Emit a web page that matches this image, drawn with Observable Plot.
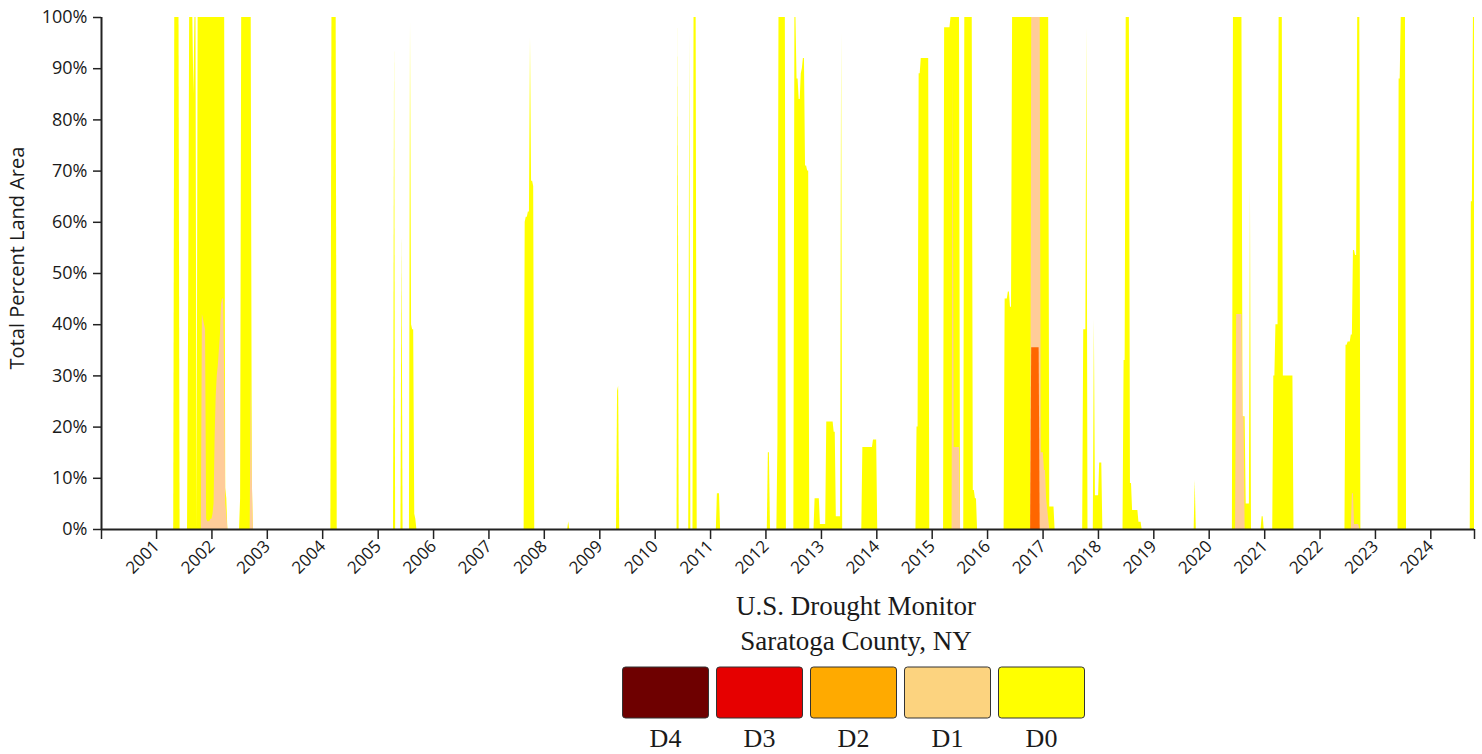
<!DOCTYPE html>
<html><head><meta charset="utf-8">
<script src="https://cdn.jsdelivr.net/npm/d3@7"></script>
<script src="https://cdn.jsdelivr.net/npm/@observablehq/plot@0.6"></script>
<style>
html,body{margin:0;padding:0;background:#fff;}
#wrap{position:relative;width:1482px;height:754px;overflow:hidden;background:#fff;}
#wrap svg{display:block;}
</style></head><body><div id="wrap"></div>
<script>
// ---- Data (weekly USDM values, % of land area, each episode = [first week, weekly values]) ----
const yearTicks = [2001,2002,2003,2004,2005,2006,2007,2008,2009,2010,2011,2012,2013,2014,2015,2016,2017,2018,2019,2020,2021,2022,2023,2024];
const percentTicks = [0,10,20,30,40,50,60,70,80,90,100];
const firstWeek = "2000-01-04";
const lastWeek = "2024-10-15";

// D0–D4 (total area in at least D0)
const d0Episodes = [
  ["2001-04-24", [0,100,100,100,100,100,0]],
  ["2001-07-24", [0,40,100,100,100,100,85,100,100,0,100,100,100,100,100,100,100,100,100,100,100,100,100,100,100,100,100,100,100,100,100,100,100,100,100,100,8,6,0]],
  ["2002-07-02", [0,6,100,100,100,100,100,100,100,100,100,100,10,0]],
  ["2004-02-24", [0,100,100,100,100,100,0]],
  ["2005-04-12", [0,95,0]],
  ["2005-05-31", [0,58,0]],
  ["2005-07-26", [0,99,40,39,39,3,2,0]],
  ["2007-08-21", [0,60,61,61,62,62,96,68,68,67,0]],
  ["2008-06-03", [0,1.5,0]],
  ["2009-04-21", [0,27,28,0]],
  ["2010-05-25", [0,98,0]],
  ["2010-08-10", [0,97,0,0,0,100,100,100,0]],
  ["2011-02-08", [0,7,7,7,0]],
  ["2012-01-10", [0,15,15,0]],
  ["2012-03-13", [0,17,100,100,100,100,100,100,100,0]],
  ["2012-07-03", [0,100,100,88,88,84,84,89,90,92,92,71,71,70,70,0]],
  ["2012-11-13", [0,6,6,6,6,6,1,1,1,1,1,1,21,21,21,21,21,21,21,19,19,2.5,2.5,2.5,2.5,2.5,97,0]],
  ["2013-09-24", [0,16,16,16,16,16,16,16,16,16,16,17.5,17.5,17.5,17.5,0]],
  ["2014-09-16", [0,20,20,89,89,92,92,92,92,92,92,92,92,0]],
  ["2015-03-17", [0,98,98,98,98,98,98,100,100,100,100,100,100,100,100,100,0,0,0,0,100,100,100,100,100,100,100,100,7.6,7.6,6,6,0]],
  ["2016-04-19", [0,45,45,45,46.4,46.4,43.4,43.4,100,100,100,100,100,100,100,100,100,100,100,100,100,100,100,100,100,100,100,100,100,100,100,100,100,100,100,100,100,100,100,100,100,100,100,4.4,4.4,4.4,4.4,4.4,0]],
  ["2017-09-19", [0,39,39,39,98,0,0,0,0,0,0,41,6.6,6.6,6.6,6.6,13,13,13,0]],
  ["2018-06-12", [0,33,33,100,100,100,100,9,9,3.7,3.7,3.7,3.7,3.7,3.7,1.4,1.4,1.4,0]],
  ["2019-09-24", [0,9.6,0]],
  ["2020-06-02", [0,100,100,100,100,100,100,100,100,100,22,22,22,5,5,5,5,67,0]],
  ["2020-12-08", [0,2.5,2.5,0]],
  ["2021-02-23", [0,30,30,40,40,40,100,100,100,100,30,30,30,30,30,30,30,30,30,30,0]],
  ["2022-06-14", [0,36,36,36.6,36.6,36.6,38,38,54.5,54.5,53.5,53.5,100,100,100,0]],
  ["2023-05-30", [0,88,88,100,100,100,100,100,0]],
  ["2024-09-17", [0,64,64,100,100]]
];

// D1–D4
const d1Episodes = [
  ["2001-10-23", [0,42,41,40,39,2,1.5,1.5,1.5,2,2,3,5,18,26,30,32,35,38,44,45,45,30,5,3,0]],
  ["2002-09-10", [0,30,10,0]],
  ["2015-05-12", [0,90,16,16,16,16,16,16,0]],
  ["2016-10-11", [0,100,100,100,100,100,100,100,100,100,15,15,15,11.5,11.5,6,4,2,0]],
  ["2020-06-23", [0,42,42,42,42,42,42,22,22,0]],
  ["2022-07-26", [0,7,7,1,1,1,1,1,0]]
];

// D2–D4
const d2Episodes = [
  ["2016-10-11", [0,35.5,35.5,35.5,35.5,35.5,35.5,35.5,35.5,0]]
];

const legendLabels = ["D4","D3","D2","D1","D0"];
const legendColors = ["#6e0000","#e60000","#ffaa00","#fcd37f","#ffff00"];
const areaColors = {D0: "#ffff00", D1: "#ffcc99", D2: "#ff6600"};
const titleLines = ["U.S. Drought Monitor", "Saratoga County, NY"];
const yLabel = "Total Percent Land Area";

// ---- Build rows ----
const WEEK = 7 * 864e5;
function expand(episodes, cat) {
  return episodes.flatMap(([start, vals], k) =>
    vals.map((v, i) => ({date: new Date(Date.parse(start) + i * WEEK), value: v, ep: cat + k})));
}
const rowsD0 = expand(d0Episodes, "D0");
const rowsD1 = expand(d1Episodes, "D1");
const rowsD2 = expand(d2Episodes, "D2");

const x0 = new Date(firstWeek), x1 = new Date(lastWeek);
const xTicks = [x0, ...yearTicks.map(y => new Date(Date.UTC(y, 0, 1))), x1];

const plot = Plot.plot({
  width: 1482,
  height: 590,
  marginLeft: 101,
  marginRight: 8,
  marginTop: 17,
  marginBottom: 61,
  style: {fontFamily: "'Open Sans', sans-serif", fontSize: "17px", color: "#1a1a1a", background: "#fff", overflow: "visible"},
  x: {type: "utc", domain: [x0, x1]},
  y: {domain: [0, 100]},
  marks: [
    Plot.areaY(rowsD0, {x: "date", y: "value", z: "ep", fill: areaColors.D0, curve: "linear"}),
    Plot.areaY(rowsD1, {x: "date", y: "value", z: "ep", fill: areaColors.D1, curve: "linear"}),
    Plot.areaY(rowsD2, {x: "date", y: "value", z: "ep", fill: areaColors.D2, curve: "linear"}),
    Plot.ruleY([0], {stroke: "#222", strokeWidth: 2}),
    Plot.ruleX([x0], {stroke: "#222", strokeWidth: 2}),
    Plot.axisX({
      ticks: xTicks,
      tickFormat: d => (d.getUTCMonth() === 0 && d.getUTCDate() === 1) ? String(d.getUTCFullYear()) : "",
      tickRotate: -45, tickSize: 10, tickPadding: 4, label: null, stroke: "#222", strokeWidth: 1.5,
      fontSize: 17
    }),
    Plot.axisY({
      ticks: percentTicks, tickFormat: d => d + "%", tickSize: 8, tickPadding: 6, label: null,
      stroke: "#222", strokeWidth: 1.5, fontSize: 18
    })
  ]
});

d3.select(plot).append("text")
  .attr("transform", "translate(24,258) rotate(-90)")
  .attr("text-anchor", "middle")
  .attr("fill", "#1a1a1a")
  .style("font-family", "'Open Sans', sans-serif")
  .style("font-size", "20px")
  .text(yLabel);

const wrap = document.getElementById("wrap");
wrap.appendChild(plot);

// ---- Title + legend below the chart ----
const leg = d3.create("svg").attr("width", 1482).attr("height", 164)
  .style("font-family", "'Liberation Serif', 'Times New Roman', serif");
leg.selectAll("text.title").data(titleLines).join("text")
  .attr("class", "title")
  .attr("x", 856).attr("y", (d, i) => 25 + i * 35)
  .attr("text-anchor", "middle").attr("fill", "#1a1a1a")
  .style("font-size", "27px")
  .text(d => d);
const g = leg.selectAll("g.sw").data(legendLabels).join("g")
  .attr("class", "sw")
  .attr("transform", (d, i) => `translate(${622.5 + i * 94},0)`);
g.append("rect").attr("x", 0).attr("y", 77).attr("width", 86).attr("height", 51)
  .attr("rx", 3).attr("fill", (d, i) => legendColors[i]).attr("stroke", "#333").attr("stroke-width", 1);
g.append("text").attr("x", 43).attr("y", 157).attr("text-anchor", "middle")
  .attr("fill", "#1a1a1a").style("font-size", "26px").text(d => d);
wrap.appendChild(leg.node());
</script></body></html>
